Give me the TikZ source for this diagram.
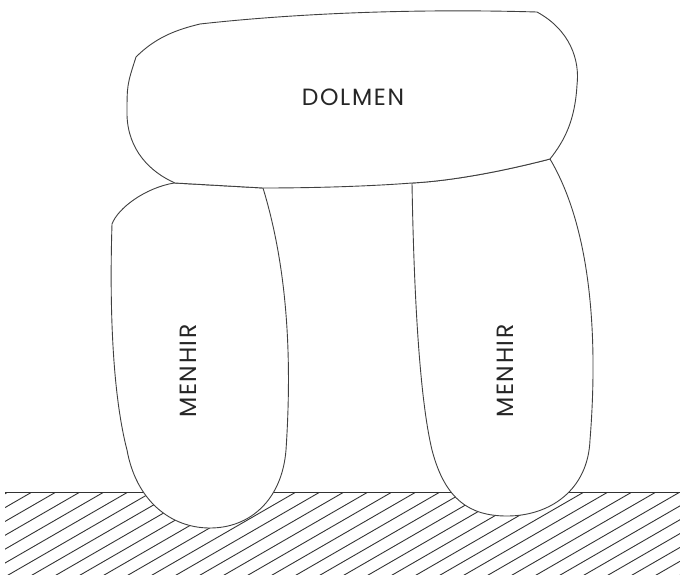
\documentclass[tikz,border=0pt]{standalone}
\usepackage{fontspec}
\setmainfont{Poppins}
\newfontfamily\stonefont[LetterSpace=7]{Poppins}
\usetikzlibrary{positioning}

\tikzset{
  stone/.style={draw=black!75, line width=0.9pt, fill=white, line join=round},
  hatch/.style={draw=black!80, line width=0.9pt},
  lbl/.style={font=\stonefont\fontsize{23.5}{24}\selectfont, text=black!85, inner sep=0pt}
}

\begin{document}
\begin{tikzpicture}[x=1pt, y=-1pt]
        \useasboundingbox (0,0) rectangle (680,574);

        % Ground hatching
        \begin{scope}
            \clip (5,492) rectangle (680,574);
            \foreach \x in {8,32,...,824} {
                \draw[hatch] (\x,492) -- ++(-150,86.6);
            }
        \end{scope}
        \draw[hatch] (5,492) -- (680,492);

        % Left menhir
        \draw[stone] (174,183) .. controls (145,188) and (118,208) .. (112,224)
            .. controls (109,320) and (114,400) .. (127,450)
            .. controls (136,500) and (170,528) .. (210,528)
            .. controls (250,528) and (282,500) .. (286,450)
            .. controls (292,360) and (288,270) .. (263,188) -- cycle;

        % Right menhir
        \draw[stone] (412,183) .. controls (414,300) and (420,400) .. (432,450)
            .. controls (445,500) and (470,516) .. (507,516)
            .. controls (550,516) and (588,490) .. (590,440)
            .. controls (598,340) and (592,230) .. (550,159)
            .. controls (500,172) and (450,181) .. (412,183) -- cycle;

        % Dolmen (capstone)
        \draw[stone] (175,183) .. controls (150,172) and (128,150) .. (127,115)
            .. controls (127,85) .. (136,57)
            .. controls (155,38) and (175,30) .. (200,24)
            .. controls (280,15) and (400,8) .. (537,12)
            .. controls (570,30) and (580,60) .. (577,85)
            .. controls (575,120) and (565,140) .. (550,159)
            .. controls (500,172) and (450,181) .. (412,183)
            .. controls (360,187) and (300,188) .. (263,188) -- cycle;

        % Labels
        \node[lbl] (dolmen) at (353,97) {DOLMEN};
        \node[lbl, rotate=90] (menhirL) at (188,371) {MENHIR};
        \node[lbl, rotate=90] (menhirR) at (505,371) {MENHIR};
    \end{tikzpicture}
\end{document}
